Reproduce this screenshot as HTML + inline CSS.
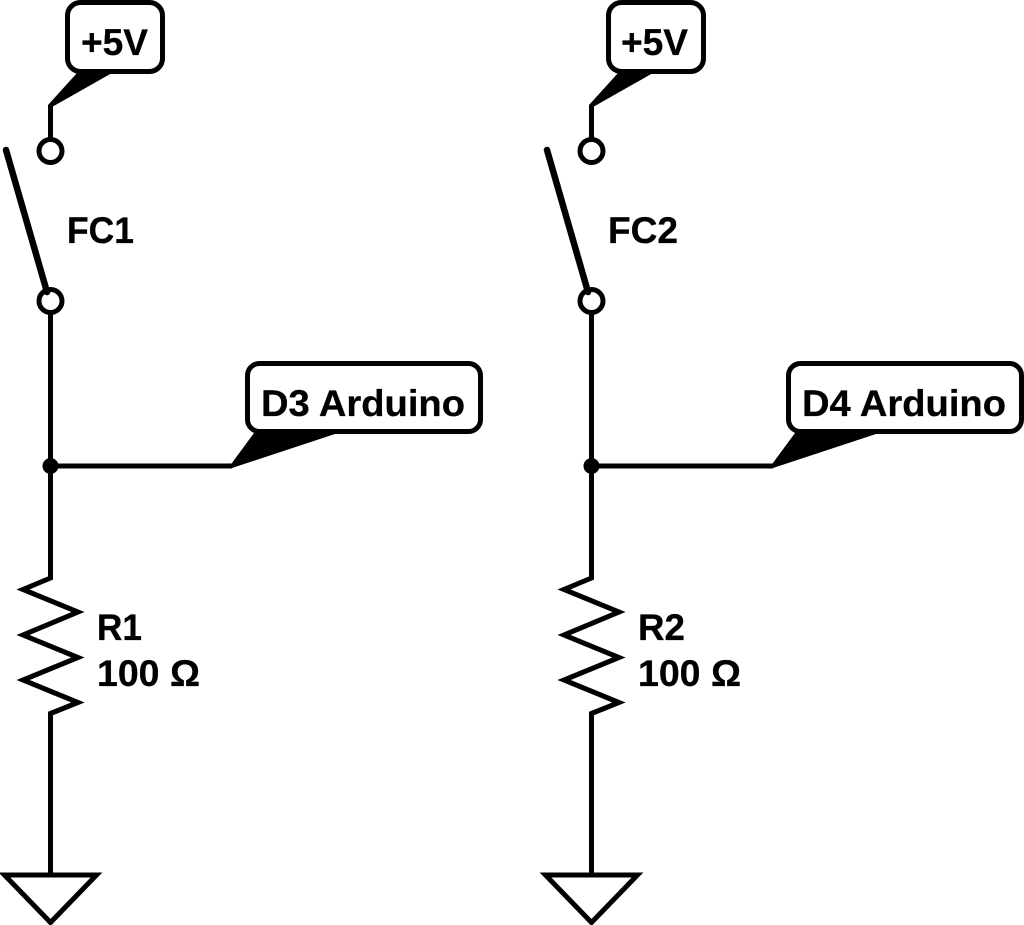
<!DOCTYPE html>
<html>
<head>
<meta charset="utf-8">
<style>
html,body{margin:0;padding:0;background:#fff;}
svg{display:block;}
text{font-family:"Liberation Sans",sans-serif;font-weight:bold;font-size:37px;fill:#000;stroke:#000;stroke-width:0.3px;}
</style>
</head>
<body>
<svg width="1024" height="925" viewBox="0 0 1024 925" xmlns="http://www.w3.org/2000/svg">
<g id="left">
  <g fill="none" stroke="#000" stroke-width="5">
    <rect x="67.5" y="2.5" width="95" height="69" rx="13" ry="13" fill="#fff"/>
    <path d="M50.5 105V140"/>
    <circle cx="50.5" cy="151" r="11.5"/>
    <path d="M6 150L47 292" stroke-width="6.500" stroke-linecap="round"/>
    <circle cx="50.5" cy="301" r="11.5"/>
    <path d="M50.5 312.500V578L23 589.500L78 612L23 635L78 657.500L23 680L78 702.500L50.500 713.500V873"/>
    <path d="M50.5 466H232"/>
    <rect x="247.500" y="363.500" width="233" height="68" rx="12" ry="12" fill="#fff"/>
    <path d="M4.500 875H96.500L50.500 922.500Z" stroke-linejoin="miter"/>
  </g>
  <path d="M48 105L77 73H112L52 107Z" fill="#000"/>
  <path d="M229 467L254 433H338L232 468Z" fill="#000"/>
  <circle cx="50.500" cy="466" r="8" fill="#000"/>
  <text x="81" y="55" textLength="67" lengthAdjust="spacingAndGlyphs">+5V</text>
  <text x="67" y="243" textLength="67" lengthAdjust="spacingAndGlyphs">FC1</text>
  <text x="261" y="416" textLength="204" lengthAdjust="spacingAndGlyphs">D3 Arduino</text>
  <text x="97" y="640" textLength="45" lengthAdjust="spacingAndGlyphs">R1</text>
  <text x="97" y="686" textLength="103" lengthAdjust="spacingAndGlyphs">100 Ω</text>
</g>
<g id="right" transform="translate(541,0)">
  <g fill="none" stroke="#000" stroke-width="5">
    <rect x="67.5" y="2.5" width="95" height="69" rx="13" ry="13" fill="#fff"/>
    <path d="M50.5 105V140"/>
    <circle cx="50.5" cy="151" r="11.5"/>
    <path d="M6 150L47 292" stroke-width="6.500" stroke-linecap="round"/>
    <circle cx="50.5" cy="301" r="11.5"/>
    <path d="M50.5 312.500V578L23 589.500L78 612L23 635L78 657.500L23 680L78 702.500L50.500 713.500V873"/>
    <path d="M50.5 466H232"/>
    <rect x="247.500" y="363.500" width="233" height="68" rx="12" ry="12" fill="#fff"/>
    <path d="M4.500 875H96.500L50.500 922.500Z" stroke-linejoin="miter"/>
  </g>
  <path d="M48 105L77 73H112L52 107Z" fill="#000"/>
  <path d="M229 467L254 433H338L232 468Z" fill="#000"/>
  <circle cx="50.500" cy="466" r="8" fill="#000"/>
  <text x="80" y="55" textLength="67" lengthAdjust="spacingAndGlyphs">+5V</text>
  <text x="67" y="243" textLength="70" lengthAdjust="spacingAndGlyphs">FC2</text>
  <text x="261" y="416" textLength="204" lengthAdjust="spacingAndGlyphs">D4 Arduino</text>
  <text x="97" y="640" textLength="47" lengthAdjust="spacingAndGlyphs">R2</text>
  <text x="97" y="686" textLength="103" lengthAdjust="spacingAndGlyphs">100 Ω</text>
</g>
</svg>
</body>
</html>
